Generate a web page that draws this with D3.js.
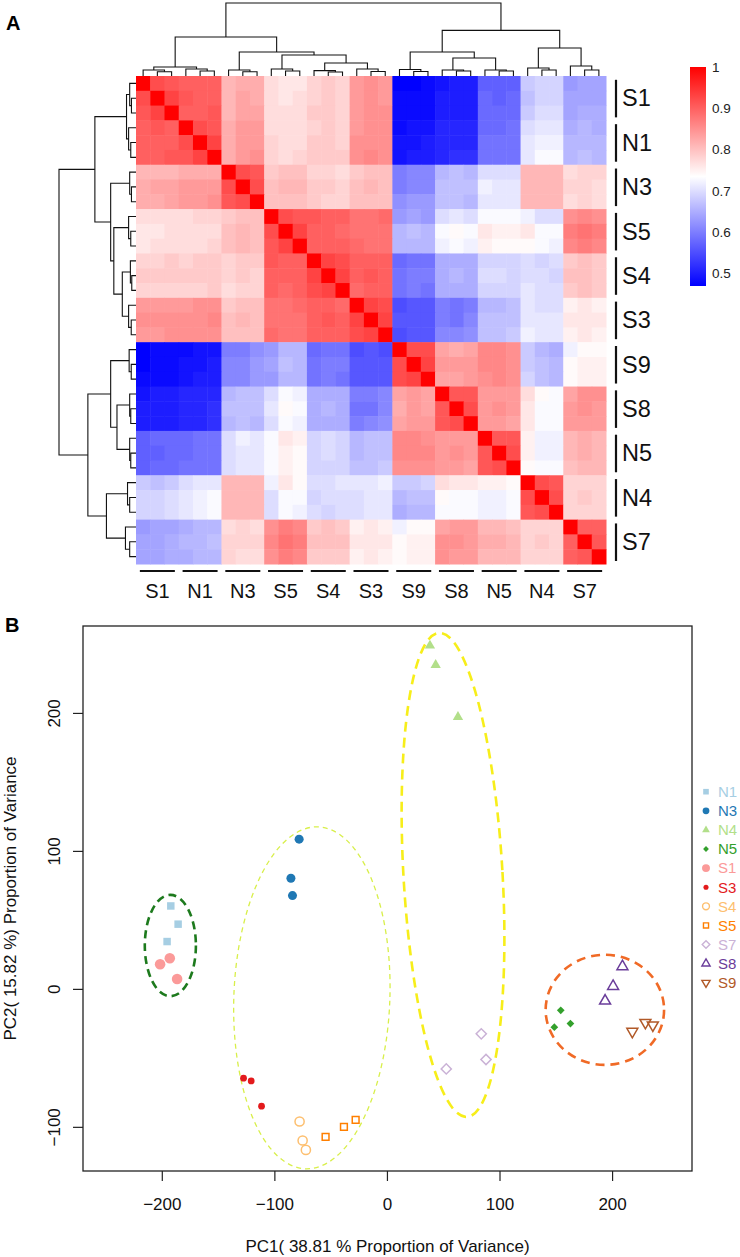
<!DOCTYPE html>
<html><head><meta charset="utf-8">
<script src="https://cdn.jsdelivr.net/npm/d3@7"></script>
<style>
body{margin:0;background:#fff;}
svg{display:block;font-family:"Liberation Sans",Arial,Helvetica,sans-serif;}
</style>
</head><body>
<svg id="chart" width="740" height="1257"></svg>
<script>
// ---------------- DATA ----------------
// Panel A: sample groups (heatmap order), 3 replicates each
const groups = ["S1","N1","N3","S5","S4","S3","S9","S8","N5","N4","S7"];
const replicates = ["a","b","c"];
// Lower triangle of the correlation matrix (x100), row by row
const corrRows = [
"100",
"92 100",
"91 93 100",
"90 91 90 100",
"90 90 90 92 100",
"90 90 91 91 93 100",
"81 81 81 82 82 82 100",
"82 83 83 84 84 84 92 100",
"82 82 83 84 84 85 91 92 100",
"77 77 77 77 78 78 79 80 80 100",
"76 76 77 77 77 77 80 81 80 92 100",
"76 77 77 77 77 78 80 81 80 91 93 100",
"78 78 79 78 79 79 78 79 79 91 90 90 100",
"79 79 79 79 79 79 78 79 78 90 90 90 93 100",
"78 78 78 78 78 79 77 78 78 90 89 90 92 93 100",
"84 84 84 84 85 85 79 80 80 88 88 89 90 90 89 100",
"85 85 85 85 85 86 80 81 80 88 88 88 90 91 90 93 100",
"84 84 85 85 85 85 80 80 80 89 88 88 90 90 90 92 93 100",
"47 48 48 48 49 49 60 60 62 63 66 66 58 59 59 55 56 55 100",
"47 48 48 49 49 50 61 61 63 64 67 66 59 60 60 56 56 56 92 100",
"48 48 48 49 50 50 61 61 63 63 66 66 59 60 59 56 56 56 92 93 100",
"49 50 50 51 51 51 66 67 67 70 73 72 65 65 65 60 60 61 83 84 83 100",
"50 50 50 51 51 52 67 67 67 71 74 73 65 66 65 59 59 61 82 84 83 91 100",
"50 50 50 51 51 52 66 67 66 70 73 72 65 65 65 60 61 62 83 84 84 91 92 100",
"57 58 58 58 59 59 70 72 71 73 76 75 69 70 69 66 67 67 86 86 85 84 84 84 100",
"57 57 58 58 59 59 70 71 71 73 75 74 69 70 69 66 67 67 86 86 86 84 85 84 91 100",
"57 58 58 59 59 59 70 71 71 73 75 74 69 69 69 67 67 68 85 85 85 84 84 83 91 92 100",
"68 67 68 70 71 71 81 81 81 72 76 74 70 70 71 71 71 72 68 68 69 77 76 76 75 75 74 100",
"69 69 70 71 72 73 81 81 81 70 73 73 69 70 70 70 71 71 66 67 67 74 73 73 72 72 73 92 100",
"69 69 70 71 72 73 81 81 81 70 73 72 70 69 70 70 71 71 65 66 66 73 73 73 72 72 73 91 92 100",
"63 64 64 65 66 66 77 78 77 85 87 86 79 80 79 75 76 75 72 74 74 83 84 84 81 81 80 78 78 78 100",
"64 64 65 66 66 67 78 78 78 86 88 87 80 80 80 76 76 76 74 75 75 85 85 84 82 82 81 78 79 78 90 100",
"64 64 65 65 66 66 78 77 77 85 87 86 79 79 79 75 76 75 74 75 75 85 84 84 81 81 81 78 78 78 90 91 100"
];
// Dendrogram (same for rows and columns): [height, left, right]; leaves are sample indices
const tree = [1.0,
  [0.534,
    [0.123, [0.082, 0, [0.059, 1, 2]], [0.096, 3, [0.068, 4, 5]]],
    [0.329, [0.082, 6, [0.059, 7, 8]],
      [0.288, [0.096, 9, [0.068, 10, 11]],
        [0.178, [0.073, 12, [0.055, 13, 14]], [0.096, 15, [0.062, 16, 17]]]]]],
  [0.625,
    [0.329, [0.089, 18, [0.062, 19, 20]],
      [0.247, [0.082, 21, [0.068, 22, 23]], [0.082, 24, [0.068, 25, 26]]]],
    [0.384, [0.11, 27, [0.082, 28, 29]], [0.137, 30, [0.082, 31, 32]]]]
];
const colorStops = [0.47, 0.735, 1];
const colorTicks = [1, 0.9, 0.8, 0.7, 0.6, 0.5];

// Panel B: PCA
const pcaGroup = ["N1","N1","N1","S1","S1","S1","N3","N3","N3","S3","S3","S3",
  "S4","S4","S4","S5","S5","S5","N4","N4","N4","S7","S7","S7",
  "N5","N5","N5","S8","S8","S8","S9","S9","S9"];
const pc1 = [-192,-185.5,-195.3, -201.5,-192.9,-186.4, -78,-85.3,-83.9, -127.4,-120.6,-111.4,
  -77.6,-74.9,-72, -54.5,-38.2,-27.8, 38.2,43.3,63.1, 52.7,83.8,88,
  154.4,148.7,163, 209.2,200.9,193.8, 218,229.6,236.2];
const pc2 = [60.1,46.9,34.3, 17.9,22.2,7.2, 108.5,80.2,67.6, -64.7,-66.7,-85,
  -96.1,-109.9,-116.7, -107.2,-100,-94.9, 248.8,234.8,197, -58,-32.6,-51.2,
  -15.5,-27.8,-25.1, 16.2,1.9,-8.7, -30.9,-24.4,-26.3];
const legendGroups = ["N1","N3","N4","N5","S1","S3","S4","S5","S7","S8","S9"];
const xTicks = [-200,-100,0,100,200];
const yTicks = [-100,0,100,200];
// Ellipses in data units: centre, semi-axes, tilt (deg, on screen)
const ellCx = [-192.4, -66.7, 58.7, 193.6];
const ellCy = [31.4, -6.5, 82.6, -15.2];
const ellRx = [22.7, 69.3, 44, 52.6];
const ellRy = [36.7, 124, 175.7, 39.9];
const ellTilt = [0, 2.1, -3.3, 0];

// ---------------- STYLES ----------------
const groupColor = {N1:"#A6CEE3",N3:"#1F78B4",N4:"#B2DF8A",N5:"#33A02C",S1:"#FB9A99",S3:"#E31A1C",
  S4:"#FDBF6F",S5:"#FF7F00",S7:"#CAB2D6",S8:"#6A3D9A",S9:"#B15928"};
const groupShape = {N1:"sqF",N3:"circF",N4:"triF",N5:"diaF",S1:"circL",S3:"dot",S4:"circO",S5:"sqO",S7:"diaO",S8:"triO",S9:"triD"};
const ellColor = ["#1d7a1d","#d8ef4a","#f7ee1a","#f06a26"];
const ellWidth = [2.6, 1.3, 2.6, 2.6];
const ellDash = ["8,5","5,4","10,6","9,6"];

const svg = d3.select("#chart");
const font = "'Liberation Sans',Arial,Helvetica,sans-serif";

// ---------------- PANEL A ----------------
const samples = groups.flatMap(g => replicates.map(r => g + r));
const n = samples.length;
const corr = Array.from({length:n}, () => new Array(n));
corrRows.forEach((row, i) => {
  row.trim().split(/\s+/).map(Number).forEach((v, j) => { corr[i][j] = v/100; corr[j][i] = v/100; });
});
const hL = 136, hR = 606, hT = 76, hB = 564;
const xb = d3.scaleBand().domain(samples).range([hL, hR]);
const yb = d3.scaleBand().domain(samples).range([hT, hB]);
const color = d3.scaleLinear().domain(colorStops).range(["#0000FF","#FFFFFF","#FF0000"]);

const cells = [];
for (let i = 0; i < n; i++) for (let j = 0; j < n; j++) cells.push({r:samples[i], c:samples[j], v:corr[i][j]});
svg.append("g").selectAll("rect").data(cells).join("rect")
  .attr("x", d => xb(d.c)).attr("y", d => yb(d.r))
  .attr("width", xb.bandwidth() + 0.5).attr("height", yb.bandwidth() + 0.5)
  .attr("fill", d => color(d.v));

// dendrograms
const segs = [];
function layout(node) {
  if (typeof node === "number") return {p: node, h: 0};
  const A = layout(node[1]), B = layout(node[2]);
  segs.push({p1:A.p, h1:A.h, p2:B.p, h2:B.h, h:node[0]});
  return {p:(A.p + B.p)/2, h:node[0]};
}
layout(tree);
const posX = d3.scaleLinear().domain([0, n-1]).range([xb(samples[0]) + xb.bandwidth()/2, xb(samples[n-1]) + xb.bandwidth()/2]);
const posY = d3.scaleLinear().domain([0, n-1]).range([yb(samples[0]) + yb.bandwidth()/2, yb(samples[n-1]) + yb.bandwidth()/2]);
const hy = d3.scaleLinear().domain([0, 1]).range([hT, 3]);
const hx = d3.scaleLinear().domain([0, 1]).range([hL, 59]);
const dg = svg.append("g").attr("fill","none").attr("stroke","#111").attr("stroke-width",1.1);
dg.selectAll("path.c").data(segs).join("path").attr("class","c")
  .attr("d", s => `M${posX(s.p1)},${hy(s.h1)}V${hy(s.h)}H${posX(s.p2)}V${hy(s.h2)}`);
dg.selectAll("path.r").data(segs).join("path").attr("class","r")
  .attr("d", s => `M${hx(s.h1)},${posY(s.p1)}H${hx(s.h)}V${posY(s.p2)}H${hx(s.h2)}`);

// group labels
const gCenterX = g => (xb(g+"a") + xb(g+"c") + xb.bandwidth())/2;
const gCenterY = g => (yb(g+"a") + yb(g+"c") + yb.bandwidth())/2;
const lab = svg.append("g");
lab.selectAll("line.b").data(groups).join("line").attr("class","b")
  .attr("x1", g => gCenterX(g) - 17.5).attr("x2", g => gCenterX(g) + 17.5)
  .attr("y1", 571).attr("y2", 571).attr("stroke","#111").attr("stroke-width",2.2);
lab.selectAll("text.b").data(groups).join("text").attr("class","b")
  .attr("x", g => gCenterX(g)).attr("y", 598).attr("text-anchor","middle")
  .attr("font-size", 20).attr("fill","#111").text(g => g);
lab.selectAll("line.r").data(groups).join("line").attr("class","r")
  .attr("x1", 616).attr("x2", 616)
  .attr("y1", g => yb(g+"a") + 3.8).attr("y2", g => yb(g+"c") + yb.bandwidth() - 3)
  .attr("stroke","#111").attr("stroke-width",2.2);
lab.selectAll("text.r").data(groups).join("text").attr("class","r")
  .attr("x", 622).attr("y", g => gCenterY(g) + 8.3).attr("text-anchor","start")
  .attr("font-size", 23.5).attr("fill","#111").text(g => g);

// colour key
const ly = d3.scaleLinear().domain([colorStops[0], colorStops[2]]).range([286, 67]);
const defs = svg.append("defs");
const grad = defs.append("linearGradient").attr("id","key").attr("x1",0).attr("y1",1).attr("x2",0).attr("y2",0);
colorStops.forEach(v => grad.append("stop")
  .attr("offset", (v - colorStops[0])/(colorStops[2]-colorStops[0])).attr("stop-color", color(v)));
svg.append("rect").attr("x",690).attr("y",ly(1)).attr("width",16).attr("height",ly(colorStops[0]) - ly(1))
  .attr("fill","url(#key)");
svg.append("g").selectAll("text").data(colorTicks).join("text")
  .attr("x", 712).attr("y", d => ly(d) + 4.8).attr("font-size", 13.5).attr("fill","#222")
  .text(d => String(d));

svg.append("text").attr("x",6).attr("y",30).attr("font-size",20).attr("font-weight","bold").text("A");
svg.append("text").attr("x",5).attr("y",632).attr("font-size",20).attr("font-weight","bold").text("B");

// ---------------- PANEL B ----------------
const pL = 83, pR = 692, pT = 626, pB = 1171;
const x = d3.scaleLinear().domain([-270, 271]).range([pL, pR]);
const y = d3.scaleLinear().domain([-132, 263]).range([pB, pT]);

svg.append("rect").attr("x",pL).attr("y",pT).attr("width",pR-pL).attr("height",pB-pT)
  .attr("fill","none").attr("stroke","#222").attr("stroke-width",1.3);

const xa = svg.append("g").attr("transform",`translate(0,${pB})`)
  .call(d3.axisBottom(x).tickValues(xTicks).tickSize(10).tickFormat(d3.format("d")));
xa.select(".domain").remove();
xa.selectAll(".tick line").attr("stroke","#222").attr("stroke-width",1.2);
xa.selectAll(".tick text").attr("y",39).attr("dy",0).attr("font-size",17).attr("fill","#111")
  .attr("font-family",font);
const ya = svg.append("g").attr("transform",`translate(${pL},0)`)
  .call(d3.axisLeft(y).tickValues(yTicks).tickSize(10).tickFormat(d3.format("d")));
ya.select(".domain").remove();
ya.selectAll(".tick line").attr("stroke","#222").attr("stroke-width",1.2);
ya.selectAll(".tick text").attr("transform","rotate(-90)").attr("x",0).attr("y",-23).attr("dy",0)
  .attr("text-anchor","middle").attr("font-size",17).attr("fill","#111").attr("font-family",font);

svg.append("text").attr("x",(pL+pR)/2).attr("y",1252).attr("text-anchor","middle")
  .attr("font-size",17).attr("fill","#111").text("PC1( 38.81 % Proportion of Variance)");
svg.append("text").attr("transform",`translate(16,${(pT+pB)/2}) rotate(-90)`).attr("text-anchor","middle")
  .attr("font-size",17).attr("fill","#111").text("PC2( 15.82 %) Proportion of Variance");

// ellipses
const eg = svg.append("g").attr("fill","none");
ellCx.forEach((cx, i) => {
  eg.append("ellipse")
    .attr("transform", `translate(${x(cx)},${y(ellCy[i])}) rotate(${ellTilt[i]})`)
    .attr("rx", x(cx + ellRx[i]) - x(cx)).attr("ry", y(ellCy[i]) - y(ellCy[i] + ellRy[i]))
    .attr("stroke", ellColor[i]).attr("stroke-width", ellWidth[i]).attr("stroke-dasharray", ellDash[i]);
});

// symbols
function symbolPath(shape, k) {
  const S = (type, size) => d3.symbol(type, size * k * k)();
  switch (shape) {
    case "sqF": return {d:S(d3.symbolSquare, 56), fill:true, rot:0};
    case "circF": return {d:S(d3.symbolCircle, 64), fill:true, rot:0};
    case "triF": return {d:S(d3.symbolTriangle, 46), fill:true, rot:0};
    case "diaF": return {d:S(d3.symbolSquare, 30), fill:true, rot:45};
    case "circL": return {d:S(d3.symbolCircle, 88), fill:true, rot:0};
    case "dot": return {d:S(d3.symbolCircle, 36), fill:true, rot:0};
    case "circO": return {d:S(d3.symbolCircle, 66), fill:false, rot:0};
    case "sqO": return {d:S(d3.symbolSquare, 46), fill:false, rot:0};
    case "diaO": return {d:S(d3.symbolSquare, 52), fill:false, rot:45};
    case "triO": return {d:S(d3.symbolTriangle, 52), fill:false, rot:0};
    case "triD": return {d:S(d3.symbolTriangle, 52), fill:false, rot:180};
  }
}
const pts = pc1.map((v, i) => ({g:pcaGroup[i], x:v, y:pc2[i]}));
svg.append("g").selectAll("path").data(pts).join("path")
  .each(function(d) {
    const s = symbolPath(groupShape[d.g], 1);
    d3.select(this).attr("d", s.d)
      .attr("transform", `translate(${x(d.x)},${y(d.y)}) rotate(${s.rot})`)
      .attr("fill", s.fill ? groupColor[d.g] : "none")
      .attr("stroke", s.fill ? "none" : groupColor[d.g]).attr("stroke-width", 1.5);
  });

// legend
const lg = svg.append("g");
legendGroups.forEach((g, i) => {
  const cy = 791.7 + i * 19.1;
  const s = symbolPath(groupShape[g], 0.75);
  lg.append("path").attr("d", s.d).attr("transform", `translate(706,${cy}) rotate(${s.rot})`)
    .attr("fill", s.fill ? groupColor[g] : "none")
    .attr("stroke", s.fill ? "none" : groupColor[g]).attr("stroke-width", 1.4);
  lg.append("text").attr("x", 718).attr("y", cy + 5.3).attr("font-size", 15)
    .attr("fill", groupColor[g]).text(g);
});
</script>
</body></html>
